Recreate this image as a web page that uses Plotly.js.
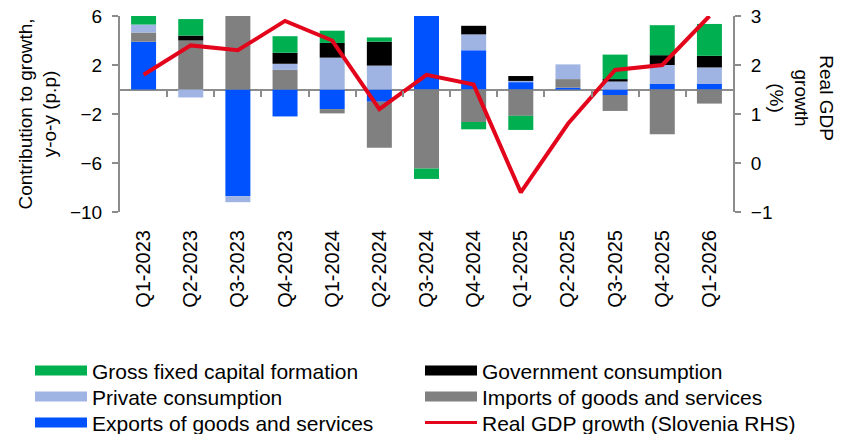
<!DOCTYPE html>
<html>
<head>
<meta charset="utf-8">
<script src="https://cdn.plot.ly/plotly-3.0.1.min.js"></script>
<style>html,body{margin:0;padding:0;background:#fff;}#chart{width:846px;height:434px;}</style>
</head>
<body>
<div id="chart"></div>
<script>
const categories = ["Q1-2023","Q2-2023","Q3-2023","Q4-2023","Q1-2024","Q2-2024","Q3-2024","Q4-2024","Q1-2025","Q2-2025","Q3-2025","Q4-2025","Q1-2026"];
const exportsGS   = [3.9, 0, -8.7, -2.2, -1.6, -1.0, 6.3, 3.2, 0.6, 0.15, -0.45, 0.45, 0.45];
const importsGS   = [0.75, 4.0, 6.3, 1.6, -0.35, -3.75, -6.45, -2.65, -2.15, 0.7, -1.3, -3.65, -1.15];
const privateCons = [0.65, -0.65, -0.5, 0.5, 2.6, 1.95, 0, 1.3, 0.1, 1.2, 0.65, 1.55, 1.35];
const govCons     = [0, 0.4, 0, 0.9, 1.2, 1.95, 0, 0.7, 0.4, 0, 0.2, 0.8, 0.95];
const gfcf        = [0.7, 1.35, 0, 1.35, 1.0, 0.35, -0.85, -0.6, -1.15, 0, 2.0, 2.45, 2.6];
const gdpGrowth   = [1.8, 2.4, 2.3, 2.9, 2.5, 1.1, 1.8, 1.6, -0.6, 0.8, 1.9, 2.0, 3.0];

const names = {
  gfcf: "Gross fixed capital formation",
  gov: "Government consumption",
  priv: "Private consumption",
  imp: "Imports of goods and services",
  exp: "Exports of goods and services",
  gdp: "Real GDP growth (Slovenia RHS)"
};
const colors = {gfcf:"#00b050", gov:"#000000", priv:"#9fb4e2", imp:"#808080", exp:"#0052ff", gdp:"#e3051b"};

function bar(key, vals){
  return {type:"bar", x:categories, y:vals, name:names[key], marker:{color:colors[key]}, showlegend:false, hoverinfo:"x+y+name"};
}
function legendEntry(key, legendId, width){
  return {type:"scatter", mode:"lines", x:[null], y:[null], name:names[key], line:{color:colors[key], width:width},
          legend:legendId, showlegend:true, hoverinfo:"skip"};
}

const traces = [
  bar("exp", exportsGS),
  bar("imp", importsGS),
  bar("priv", privateCons),
  bar("gov", govCons),
  bar("gfcf", gfcf),
  {type:"scatter", mode:"lines", x:categories, y:gdpGrowth, yaxis:"y2", name:names.gdp, line:{color:colors.gdp, width:4}, showlegend:false},
  legendEntry("gfcf","legend",10), legendEntry("gov","legend2",10),
  legendEntry("priv","legend3",10), legendEntry("imp","legend4",10),
  legendEntry("exp","legend5",10), legendEntry("gdp","legend6",3),
  {type:"scatter", x:[0], y:[null], xaxis:"x2", showlegend:false, hoverinfo:"skip"}
];

const n = categories.length;
const boundaries = [];
for (let i = 0; i < n - 1; i++) boundaries.push(i + 0.5);

const axisGrey = "#8c8c8c";
const font = {family:"Liberation Sans, Arial, sans-serif", size:19, color:"#000"};
const legendFont = {family:font.family, size:21, color:"#000"};
function leg(x, y){
  return {orientation:"v", x:x, xanchor:"left", y:y, yanchor:"middle", itemwidth:52,
          font:legendFont, borderwidth:0, bgcolor:"rgba(0,0,0,0)"};
}
const col1 = -0.1468, col2 = 0.4894;
const row1 = -0.81, row2 = -0.943, row3 = -1.076;

const layout = {
  width:846, height:434,
  margin:{l:120, r:113, t:16, b:222, autoexpand:false},
  paper_bgcolor:"#fff", plot_bgcolor:"#fff",
  font:font,
  barmode:"relative",
  bargap:0.47,
  showlegend:true,
  legend:leg(col1,row1), legend2:leg(col2,row1),
  legend3:leg(col1,row2), legend4:leg(col2,row2),
  legend5:leg(col1,row3), legend6:leg(col2,row3),
  xaxis:{type:"category", range:[-0.5, n-0.5], showline:false, ticks:"", tickangle:-90,
         showgrid:false, zeroline:false, ticklabelstandoff:13, tickfont:{size:20}},
  xaxis2:{overlaying:"x", anchor:"free", position:0.625, range:[-0.5, n-0.5], type:"linear",
          showline:false, ticks:"outside", ticklen:6, tickwidth:2, tickcolor:axisGrey,
          tickvals:boundaries, showticklabels:false, showgrid:false, zeroline:false},
  yaxis:{range:[-10, 6], tick0:-10, dtick:4, showgrid:false, zeroline:true, zerolinecolor:axisGrey, zerolinewidth:2,
         showline:true, linecolor:axisGrey, linewidth:2, ticks:"outside", ticklen:6, tickwidth:2, tickcolor:axisGrey,
         tickfont:{size:19}, ticklabelstandoff:6,
         title:{text:"Contribution to growth,<br>y-o-y (p.p)", font:{size:19}, standoff:8}},
  yaxis2:{range:[-1, 3], dtick:1, overlaying:"y", side:"right", showgrid:false, zeroline:false,
          showline:true, linecolor:axisGrey, linewidth:2, ticks:"outside", ticklen:6, tickwidth:2, tickcolor:axisGrey,
          tickfont:{size:19}, ticklabelstandoff:6},
  annotations:[{text:"Real GDP<br>growth<br>(%)", xref:"paper", yref:"paper", x:1.112, y:0.582, textangle:90,
                showarrow:false, font:{size:19, color:"#000"}, xanchor:"center", yanchor:"middle"}]
};

Plotly.newPlot("chart", traces, layout, {staticPlot:true, displayModeBar:false});
</script>
</body>
</html>
